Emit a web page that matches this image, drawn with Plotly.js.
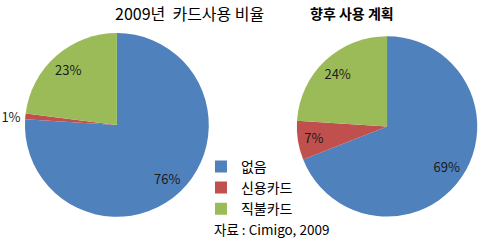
<!DOCTYPE html>
<html><head><meta charset="utf-8">
<script src="https://cdn.plot.ly/plotly-3.0.1.min.js"></script>
<style>html,body{margin:0;padding:0;background:#fff}</style>
</head><body>
<div id="chart" style="width:489px;height:244px"></div>
<script>
const categories = ['없음', '신용카드', '직불카드'];
const values2009 = [76, 1, 23];
const valuesPlan = [69, 7, 24];
const titles = ['2009년  카드사용 비율', '향후 사용 계획'];
const source = '자료 : Cimigo, 2009';
const colors = ['#4F81BD', '#C0504D', '#9BBB59'];
const FONT = '"Noto Sans CJK KR", "Noto Sans", sans-serif';

const domains = [
  {x: [0.051, 0.427], y: [0.111, 0.865]},
  {x: [0.607, 0.976], y: [0.107, 0.857]}
];
const tf = {color: '#1a1a1a', size: 13, family: FONT};
function slices(vals, dom, legend) {
  return {type: 'pie', labels: categories, values: vals, sort: false, direction: 'clockwise', rotation: 0,
    marker: {colors: colors, line: {width: 0}}, textinfo: 'none', hoverinfo: 'none',
    domain: dom, showlegend: legend};
}
function labels(vals, dom, pos) {
  return {type: 'pie', labels: categories, values: vals, sort: false, direction: 'clockwise', rotation: 0,
    hole: 0.6, marker: {colors: ['rgba(0,0,0,0)', 'rgba(0,0,0,0)', 'rgba(0,0,0,0)'], line: {width: 0}},
    texttemplate: '%{value}%', textposition: pos, insidetextorientation: 'horizontal',
    insidetextfont: tf, outsidetextfont: tf, hoverinfo: 'none', domain: dom, showlegend: false};
}
const data = [
  slices(values2009, domains[0], true),
  slices(valuesPlan, domains[1], false),
  labels(values2009, domains[0], ['inside', 'outside', 'inside']),
  labels(valuesPlan, domains[1], ['inside', 'inside', 'inside'])
];
const layout = {
  width: 489, height: 244, margin: {l: 0, r: 0, t: 0, b: 0},
  paper_bgcolor: '#fff', font: {family: FONT, color: '#000'},
  showlegend: true,
  legend: {x: 0.411, y: 0.382, xanchor: 'left', yanchor: 'top', font: {size: 14, family: FONT, color: '#000'},
    bgcolor: 'rgba(0,0,0,0)', itemwidth: 30, tracegroupgap: 0},
  annotations: [
    {text: titles[0], x: 0.232, y: 0.945, xref: 'paper', yref: 'paper', yanchor: 'middle', showarrow: false, font: {size: 16, family: FONT}},
    {text: '<b>' + titles[1] + '</b>', x: 0.81, y: 0.945, xref: 'paper', yref: 'paper', yanchor: 'middle', showarrow: false, font: {size: 14, family: FONT}},
    {text: source, x: 0.434, y: 0.06, xref: 'paper', yref: 'paper', xanchor: 'left', yanchor: 'middle', showarrow: false, font: {size: 13.5, family: FONT}}
  ]
};
Plotly.newPlot('chart', data, layout, {displayModeBar: false, staticPlot: true});
</script>
</body></html>
